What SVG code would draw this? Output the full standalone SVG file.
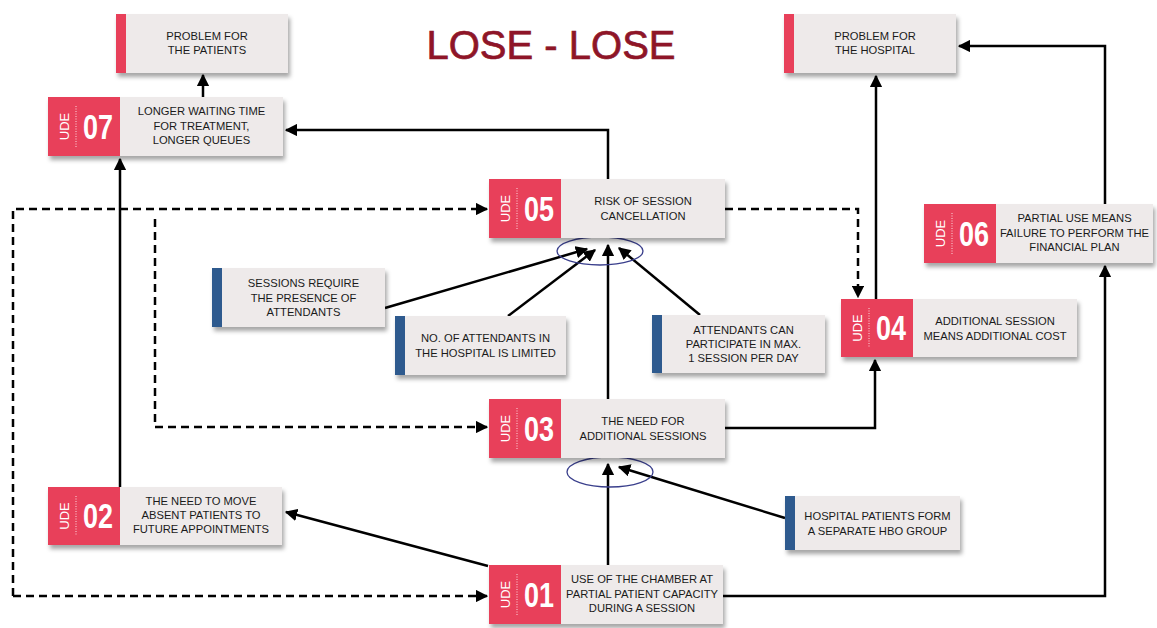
<svg xmlns="http://www.w3.org/2000/svg" width="1157" height="628" viewBox="0 0 1157 628">
<defs>
<filter id="sh" x="-10%" y="-20%" width="125%" height="150%">
<feDropShadow dx="2" dy="4" stdDeviation="2" flood-color="#000" flood-opacity="0.35"/>
</filter>
<marker id="ar" viewBox="0 0 10 10" refX="9" refY="5" markerWidth="5" markerHeight="5" markerUnits="strokeWidth" orient="auto">
<path d="M0,0 L10,5 L0,10 z" fill="#000"/>
</marker>
</defs>
<style>
.box{fill:#EEEAEA;filter:url(#sh)}
.red{fill:#E8405A}
.blue{fill:#2E5A8E}
.t{font-family:"Liberation Sans",Arial,sans-serif;font-size:11.2px;fill:#1a1a1a;text-anchor:middle}
.ude{font-family:"Liberation Sans",Arial,sans-serif;font-size:13px;fill:#fff;text-anchor:middle}
.num{font-family:"Liberation Sans",Arial,sans-serif;font-size:35px;font-weight:bold;fill:#fff;text-anchor:middle}
.dot{stroke:#fff;stroke-width:1;stroke-dasharray:1 1.5;opacity:0.8}
.c{fill:none;stroke:#000;stroke-width:2.5}
.d{fill:none;stroke:#000;stroke-width:2.5;stroke-dasharray:8 5}
.ell{fill:none;stroke:#3A3F8C;stroke-width:1.3}
.title{font-family:"Liberation Sans",Arial,sans-serif;font-size:40px;fill:#8E1528;stroke:#8E1528;stroke-width:0.7;text-anchor:middle}
</style>
<rect width="1157" height="628" fill="#fff"/>
<text class="title" x="551" y="59">LOSE - LOSE</text>

<g id="connectors">
<path class="c" d="M203,97 L203,75" marker-end="url(#ar)"/>
<path class="c" d="M608,179 L608,130 L286,130" marker-end="url(#ar)"/>
<path class="c" d="M876,299 L876,76" marker-end="url(#ar)"/>
<path class="c" d="M1105,204 L1105,46 L959,46" marker-end="url(#ar)"/>
<path class="c" d="M723,596 L1105,596 L1105,266" marker-end="url(#ar)"/>
<path class="c" d="M725,428 L875,428 L875,360" marker-end="url(#ar)"/>
<path class="c" d="M488,566 L286,512" marker-end="url(#ar)"/>
<path class="c" d="M120,487 L120,159" marker-end="url(#ar)"/>
<path class="c" d="M608,399 L608,245" marker-end="url(#ar)"/>
<path class="c" d="M385,308 L587,249" marker-end="url(#ar)"/>
<path class="c" d="M508,316 L595,250" marker-end="url(#ar)"/>
<path class="c" d="M700,315 L619,248" marker-end="url(#ar)"/>
<path class="c" d="M608,565 L608,464" marker-end="url(#ar)"/>
<path class="c" d="M785,518 L619,467" marker-end="url(#ar)"/>
<path class="d" d="M725,209 L858,209 L858,297" marker-end="url(#ar)"/>
<path class="d" d="M13,596 L13,209 L487,209" marker-end="url(#ar)"/>
<path class="d" d="M13,596 L487,596" marker-end="url(#ar)"/>
<path class="d" d="M155,219 L155,427 L487,427" marker-end="url(#ar)"/>
<ellipse class="ell" cx="600" cy="251" rx="43" ry="14"/>
<ellipse class="ell" cx="610" cy="472" rx="43" ry="15"/>
</g>

<g id="problem-patients">
<rect class="box" x="116" y="14" width="172" height="59"/>
<rect class="red" x="116" y="14" width="10" height="59"/>
<text class="t" x="207" y="40">PROBLEM FOR</text>
<text class="t" x="207" y="54">THE PATIENTS</text>
</g>

<g id="problem-hospital">
<rect class="box" x="784" y="14" width="172" height="59"/>
<rect class="red" x="784" y="14" width="10" height="59"/>
<text class="t" x="875" y="40">PROBLEM FOR</text>
<text class="t" x="875" y="54">THE HOSPITAL</text>
</g>

<g id="ude07">
<rect class="box" x="48" y="97" width="235" height="59"/>
<rect class="red" x="48" y="97" width="72" height="59"/>
<text class="ude" transform="translate(69,126.5) rotate(-90)">UDE</text>
<line class="dot" x1="76" y1="106" x2="76" y2="147"/>
<text class="num" x="98" y="139" textLength="30" lengthAdjust="spacingAndGlyphs">07</text>
<text class="t" x="201.5" y="115">LONGER WAITING TIME</text>
<text class="t" x="201.5" y="130">FOR TREATMENT,</text>
<text class="t" x="201.5" y="144">LONGER QUEUES</text>
</g>

<g id="ude05">
<rect class="box" x="489" y="179" width="236" height="59"/>
<rect class="red" x="489" y="179" width="72" height="59"/>
<text class="ude" transform="translate(510,208.5) rotate(-90)">UDE</text>
<line class="dot" x1="517" y1="188" x2="517" y2="229"/>
<text class="num" x="539" y="221" textLength="30" lengthAdjust="spacingAndGlyphs">05</text>
<text class="t" x="643" y="205">RISK OF SESSION</text>
<text class="t" x="643" y="220">CANCELLATION</text>
</g>

<g id="ude06">
<rect class="box" x="924" y="204" width="229" height="59"/>
<rect class="red" x="924" y="204" width="72" height="59"/>
<text class="ude" transform="translate(945,233.5) rotate(-90)">UDE</text>
<line class="dot" x1="952" y1="213" x2="952" y2="254"/>
<text class="num" x="974" y="246" textLength="30" lengthAdjust="spacingAndGlyphs">06</text>
<text class="t" x="1074.5" y="222">PARTIAL USE MEANS</text>
<text class="t" x="1074.5" y="237">FAILURE TO PERFORM THE</text>
<text class="t" x="1074.5" y="251">FINANCIAL PLAN</text>
</g>

<g id="sessions-require">
<rect class="box" x="212" y="268" width="173" height="59"/>
<rect class="blue" x="212" y="268" width="10" height="59"/>
<text class="t" x="303.5" y="287">SESSIONS REQUIRE</text>
<text class="t" x="303.5" y="302">THE PRESENCE OF</text>
<text class="t" x="303.5" y="316">ATTENDANTS</text>
</g>

<g id="attendants-limited">
<rect class="box" x="395" y="316" width="171" height="59"/>
<rect class="blue" x="395" y="316" width="10" height="59"/>
<text class="t" x="485.5" y="342">NO. OF ATTENDANTS IN</text>
<text class="t" x="485.5" y="357">THE HOSPITAL IS LIMITED</text>
</g>

<g id="attendants-max">
<rect class="box" x="652" y="315" width="173" height="58"/>
<rect class="blue" x="652" y="315" width="10" height="58"/>
<text class="t" x="743.5" y="334">ATTENDANTS CAN</text>
<text class="t" x="743.5" y="348">PARTICIPATE IN MAX.</text>
<text class="t" x="743.5" y="362">1 SESSION PER DAY</text>
</g>

<g id="ude04">
<rect class="box" x="841" y="299" width="236" height="58"/>
<rect class="red" x="841" y="299" width="72" height="58"/>
<text class="ude" transform="translate(862,328) rotate(-90)">UDE</text>
<line class="dot" x1="869" y1="308" x2="869" y2="348"/>
<text class="num" x="891" y="340" textLength="30" lengthAdjust="spacingAndGlyphs">04</text>
<text class="t" x="995" y="325">ADDITIONAL SESSION</text>
<text class="t" x="995" y="340">MEANS ADDITIONAL COST</text>
</g>

<g id="ude03">
<rect class="box" x="489" y="399" width="236" height="59"/>
<rect class="red" x="489" y="399" width="72" height="59"/>
<text class="ude" transform="translate(510,428.5) rotate(-90)">UDE</text>
<line class="dot" x1="517" y1="408" x2="517" y2="449"/>
<text class="num" x="539" y="441" textLength="30" lengthAdjust="spacingAndGlyphs">03</text>
<text class="t" x="643" y="425">THE NEED FOR</text>
<text class="t" x="643" y="440">ADDITIONAL SESSIONS</text>
</g>

<g id="ude02">
<rect class="box" x="48" y="487" width="234" height="58"/>
<rect class="red" x="48" y="487" width="72" height="58"/>
<text class="ude" transform="translate(69,516) rotate(-90)">UDE</text>
<line class="dot" x1="76" y1="496" x2="76" y2="536"/>
<text class="num" x="98" y="528" textLength="30" lengthAdjust="spacingAndGlyphs">02</text>
<text class="t" x="201" y="505">THE NEED TO MOVE</text>
<text class="t" x="201" y="519">ABSENT PATIENTS TO</text>
<text class="t" x="201" y="533">FUTURE APPOINTMENTS</text>
</g>

<g id="hospital-patients">
<rect class="box" x="785" y="496" width="175" height="54"/>
<rect class="blue" x="785" y="496" width="10" height="54"/>
<text class="t" x="877.5" y="520">HOSPITAL PATIENTS FORM</text>
<text class="t" x="877.5" y="535">A SEPARATE HBO GROUP</text>
</g>

<g id="ude01">
<rect class="box" x="489" y="565" width="234" height="59"/>
<rect class="red" x="489" y="565" width="72" height="59"/>
<text class="ude" transform="translate(510,594.5) rotate(-90)">UDE</text>
<line class="dot" x1="517" y1="574" x2="517" y2="615"/>
<text class="num" x="539" y="607" textLength="30" lengthAdjust="spacingAndGlyphs">01</text>
<text class="t" x="642" y="583">USE OF THE CHAMBER AT</text>
<text class="t" x="642" y="598">PARTIAL PATIENT CAPACITY</text>
<text class="t" x="642" y="612">DURING A SESSION</text>
</g>
</svg>
